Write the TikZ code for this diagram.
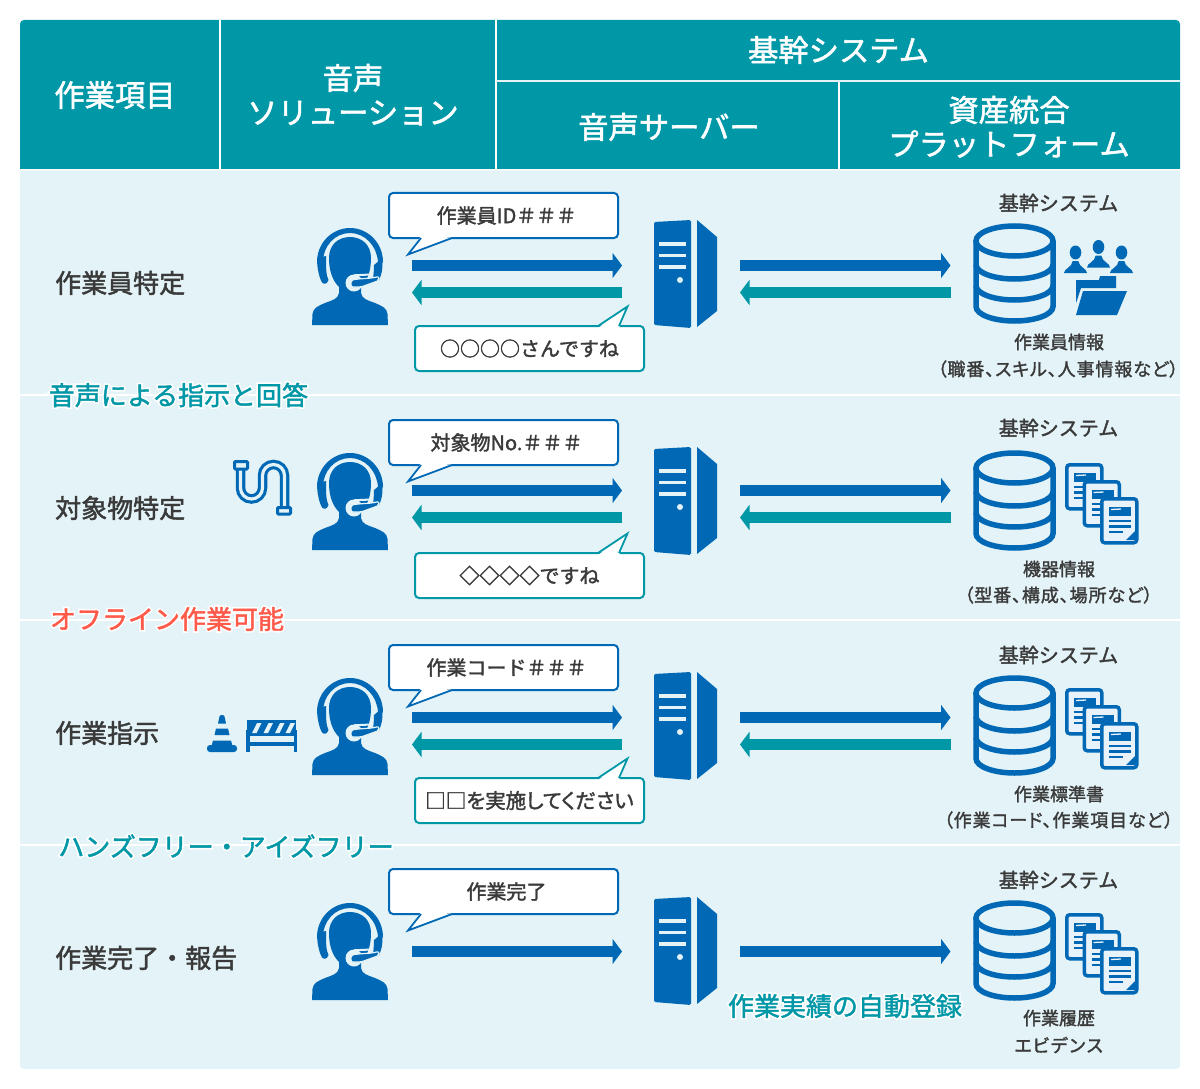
\documentclass[tikz,border=0pt]{standalone}
\usepackage{fontspec}
\usetikzlibrary{arrows.meta}
\setmainfont{Noto Sans CJK JP}[RawFeature={embolden=1.7}]
\newcommand\fs[1]{\fontsize{#1pt}{#1pt}\selectfont}
% coloured caption with a white outline
\newcommand\glowed[1]{\rlap{\color{white}\addfontfeature{RawFeature={embolden=14}}#1}#1}
\definecolor{tealc}{HTML}{0097A7}
\definecolor{bluec}{HTML}{0068B5}
\definecolor{paper}{HTML}{E3F3F7}
\definecolor{inkc}{HTML}{3A3A3A}
\definecolor{redc}{HTML}{FF5A4A}
\definecolor{sheet}{HTML}{E8F2FA}
\tikzset{
  x=1pt,y=-1pt,
  headtext/.style={text=white,align=center,inner sep=0,font=\fs{30.3}},
  rowtext/.style={text=inkc,anchor=west,inner sep=0,font=\fs{26}},
  dbtext/.style={text=inkc,inner sep=0,font=\fs{20}},
  infotext/.style={text=inkc,inner sep=0,font=\fs{18}},
  infopar/.style={text=inkc,inner sep=0,font=\fs{18}\addfontfeature{RawFeature={+palt},LetterSpace=5}},
  tagtext/.style={inner sep=0,font=\fs{26}},
  bubble/.style={draw=#1,fill=white,line width=2pt,rounded corners=4pt,minimum width=229pt,minimum height=45pt,inner sep=0,text=inkc,font=\fs{20}},
  flowblue/.style={draw=bluec,line width=11pt,-{Triangle[length=9.5pt,width=25pt]}},
  flowteal/.style={draw=tealc,line width=11pt,-{Triangle[length=9.5pt,width=25pt]}},
  pics/agent/.style={code={
    \fill[bluec] (312,325) -- (312.5,314) .. controls (313,308) and (318,306) .. (325,303)
      .. controls (333,300) and (338,299) .. (339,293) -- (339,287)
      .. controls (332,280) and (329,270) .. (329,258) .. controls (329,245) and (338,237) .. (350,237)
      .. controls (362,237) and (371,245) .. (371,258) .. controls (371,270) and (368,280) .. (361,287)
      -- (361,293) .. controls (362,299) and (367,300) .. (375,303)
      .. controls (382,306) and (387,308) .. (387.5,314) -- (388,325) -- cycle;
    \fill[bluec] (317,262) .. controls (317,243) and (332,228) .. (350,228)
      .. controls (368,228) and (383,243) .. (383,262) -- (378,262)
      .. controls (377,246) and (365,233) .. (350,233)
      .. controls (335,233) and (323,246) .. (323,262) -- cycle;
    \fill[bluec] (317,258) -- (326,256) .. controls (326,268) and (326,275) .. (328.5,280)
      .. controls (327,284.5) and (324,284.5) .. (322,282.5) .. controls (319,277) and (317,268) .. (317,258) -- cycle;
    \fill[bluec] (382.5,258) -- (382.5,263) .. controls (382.5,270) and (381.5,275) .. (379,280) -- (373,280)
      .. controls (373.5,275) and (374,270) .. (374,265) -- cycle;
    \fill[paper] (354,283) circle[radius=8.5];
    \draw[paper,line width=2pt] (354,275.3) -- (371,274.5);
    \fill[bluec,draw=paper,line width=1.2pt,rounded corners=2pt]
      (351,280) -- (358,279) -- (372,278) -- (379,276.5) -- (379,280.5) -- (361,287) -- (351,287) -- cycle;
  }},
  pics/tower/.style={code={
    \fill[bluec,rounded corners=1.5pt] (654,222) -- (691,220) -- (691,328) -- (654,325) -- cycle;
    \fill[bluec] (697,220) -- (717,237) -- (717,311) -- (697,327) -- cycle;
    \foreach \ly in {244,255.5,267}{\draw[paper,line width=3.3pt] (659,\ly) -- (686,\ly);}
    \fill[paper] (680,280) circle[radius=3];
  }},
  pics/store/.style={code={
    \draw[bluec,line width=5.5pt] (1014.5,241) ellipse[x radius=38.5,y radius=15];
    \draw[bluec,line width=5.5pt] (976,241) -- (976,306.5) .. controls (976,314.5) and (993.2,321) .. (1014.5,321)
      .. controls (1035.8,321) and (1053,314.5) .. (1053,306.5) -- (1053,241);
    \foreach \ay in {264.5,285.5}{
      \draw[bluec,line width=5.5pt] (976,\ay) .. controls (976,\ay+8) and (993.2,\ay+14.5) .. (1014.5,\ay+14.5)
        .. controls (1035.8,\ay+14.5) and (1053,\ay+8) .. (1053,\ay);
    }
  }},
  pics/sheetpage/.style={code={
    \draw[bluec,line width=3.5pt,fill=sheet,rounded corners=3pt] (1.75,1.75) rectangle (36.75,45.75);
    \fill[bluec] (9,10) rectangle (31,19);
    \draw[sheet,line width=1.3pt] (11,12.5) -- (21,12);
    \foreach \ly in {24,29.5}{\draw[bluec,line width=2.2pt] (9,\ly) -- (31,\ly);}
    \draw[bluec,line width=2.2pt] (9,35) -- (23,35);
    \fill[bluec] (35,43) -- (26,43) -- (35,34) -- cycle;
  }},
  pics/papers/.style={code={
    \pic at (1065,236) {sheetpage};
    \pic at (1082.5,253) {sheetpage};
    \pic at (1100,270) {sheetpage};
  }},
  pics/crew/.style={code={
    \foreach \px/\py in {1075.5/0,1121.5/0,1098.5/-5.5}{
      \fill[bluec] (\px,252.5+\py) ellipse[x radius=5.8,y radius=7];
      \fill[bluec] (\px-11.5,273+\py) .. controls (\px-11.5,268.5+\py) and (\px-3.5,267.5+\py) .. (\px-2.8,261+\py)
        -- (\px+2.8,261+\py) .. controls (\px+3.5,267.5+\py) and (\px+11.5,268.5+\py) .. (\px+11.5,273+\py) -- cycle;
    }
    \fill[bluec] (1076,280) -- (1099,280) -- (1100,276) -- (1116,276) -- (1116,288) -- (1081,288) -- (1076,303) -- cycle;
    \fill[bluec] (1083,291) -- (1127,291) -- (1117,315) -- (1076,315) -- cycle;
  }},
  pics/pipework/.style={code={
    \draw[bluec,line width=9.5pt] (240.5,468) -- (240.5,488) .. controls (240.5,494) and (245.4,499) .. (251.5,499)
      .. controls (257.6,499) and (262.5,494) .. (262.5,488) -- (262.5,475.5)
      .. controls (262.5,469.4) and (267.4,464.5) .. (273.5,464.5)
      .. controls (279.6,464.5) and (284.5,469.4) .. (284.5,475.5) -- (284.5,508);
    \draw[paper,line width=3.2pt] (240.5,468) -- (240.5,488) .. controls (240.5,494) and (245.4,499) .. (251.5,499)
      .. controls (257.6,499) and (262.5,494) .. (262.5,488) -- (262.5,475.5)
      .. controls (262.5,469.4) and (267.4,464.5) .. (273.5,464.5)
      .. controls (279.6,464.5) and (284.5,469.4) .. (284.5,475.5) -- (284.5,508);
    \draw[bluec,line width=3pt,fill=paper,rounded corners=1pt] (234.5,461.5) rectangle (247.5,469);
    \draw[bluec,line width=3pt,fill=paper,rounded corners=1pt] (277.5,507.5) rectangle (290.5,514);
  }},
  pics/cone/.style={code={
    \fill[bluec,rounded corners=3pt] (207,745) rectangle (237,752);
    \fill[bluec] (218,723.5) -- (219.5,716.5) .. controls (220,714.5) and (224,714.5) .. (224.5,716.5) -- (226,723.5) -- cycle;
    \fill[bluec] (216,728.5) -- (228,728.5) -- (229.5,735) -- (214.5,735) -- cycle;
    \fill[bluec] (213,740.5) -- (231,740.5) -- (232.5,746) -- (211.5,746) -- cycle;
  }},
  pics/barrier/.style={code={
    \fill[bluec] (247,720) -- (296,720) -- (296,736) -- (247,736) -- cycle;
    \foreach \sx in {253,264.5,276,286.5}{
      \fill[paper] (\sx+4,723) -- (\sx+8.5,723) -- (\sx+3.5,733) -- (\sx-1,733) -- cycle;
    }
    \fill[bluec] (247,742) rectangle (296,746);
    \fill[bluec] (246,730) rectangle (249.5,752);
    \fill[bluec] (293.5,730) rectangle (297,752);
  }},
}
\begin{document}
\begin{tikzpicture}
\useasboundingbox (0,0) rectangle (1200,1089);
% body and table head
\fill[paper] (20,170.5) -- (1180,170.5) [rounded corners=4pt] -- (1180,1069) -- (20,1069) [sharp corners] -- cycle;
\fill[tealc] (20,169) [rounded corners=4pt] -- (20,20) -- (1180,20) [sharp corners] -- (1180,169) -- cycle;
\draw[white,line width=2pt] (220,20) -- (220,169);
\draw[white,line width=2pt] (496,20) -- (496,169);
\draw[paper,line width=2pt] (497,81) -- (1180,81);
\draw[white,line width=2pt] (838.5,82) -- (838.5,169);
\foreach \sy in {395,620,845}{\draw[white,line width=2pt] (20,\sy) -- (1180,\sy);}

\node[headtext] (h1) at (115,95) {作業項目};
\node[headtext] (h2a) at (353,78) {音声};
\node[headtext] (h2b) at (353,113) {ソリューション};
\node[headtext] (h3) at (838.5,50) {基幹システム};
\node[headtext] (h4) at (669,127) {音声サーバー};
\node[headtext] (h5a) at (1009,110) {資産統合};
\node[headtext] (h5b) at (1009,144) {プラットフォーム};

\node[rowtext] (r1) at (55,283) {作業員特定};
\node[rowtext] (r2) at (55,508) {対象物特定};
\node[rowtext] (r3) at (55,733) {作業指示};
\node[rowtext] (r4) at (55,958) {作業完了・報告};

% icons, one set per row
\foreach \n/\dp/\ds/\dd in {1/0/0/0,2/225/227/227,3/450/452/452,4/675/677/677}{
  \pic at (0,\dp) {agent};
  \pic at (0,\ds) {tower};
  \pic at (0,\dd) {store};
}
\pic at (0,0) {crew};
\pic at (0,227) {papers};
\pic at (0,452) {papers};
\pic at (0,677) {papers};
\pic at (0,0) {pipework};
\pic at (0,0) {cone};
\pic at (0,0) {barrier};

% speech bubbles towards the server
\foreach \n/\dq/\msg in {1/0/作業員ID＃＃＃,2/227/対象物No.＃＃＃,3/452/作業コード＃＃＃,4/676/作業完了}{
  \node[bubble=bluec] (q\n) at (503.5,215.5+\dq) {\hspace*{6pt}\raisebox{0.7pt}{\msg}};
  \fill[white] (421,236+\dq) -- (408,254.5+\dq) -- (452,237.5+\dq) -- cycle;
  \draw[bluec,line width=1.8pt] (421,238+\dq) -- (408,254.5+\dq) -- (452,238+\dq);
}
% speech bubbles back from the server
\foreach \n/\dq/\msg in {1/0/○○○○さんですね,2/227/◇◇◇◇ですね}{
  \node[bubble=tealc] (a\n) at (529.5,348.5+\dq) {\msg};
  \fill[white] (598,328+\dq) -- (627.5,306.5+\dq) -- (619,328+\dq) -- cycle;
  \draw[tealc,line width=1.8pt] (598,326+\dq) -- (627.5,306.5+\dq) -- (619,326+\dq);
}
\node[bubble=tealc] (a3) at (529.5,800.5) {\fs{20.5}\addfontfeature{RawFeature={+palt}}□□を実施してください};
\fill[white] (598,780) -- (627.5,758.5) -- (619,780) -- cycle;
\draw[tealc,line width=1.8pt] (598,778) -- (627.5,758.5) -- (619,778);

% message flows
\foreach \n/\dy in {1/0,2/225,3/452}{
  \coordinate (u\n) at (412,265.5+\dy);
  \coordinate (s\n) at (622,265.5+\dy);
  \coordinate (t\n) at (622,292.5+\dy);
  \coordinate (v\n) at (412,292.5+\dy);
  \coordinate (w\n) at (740,265.5+\dy);
  \coordinate (d\n) at (950.5,265.5+\dy);
  \coordinate (e\n) at (950.5,292.5+\dy);
  \coordinate (f\n) at (740,292.5+\dy);
  \draw[flowblue] (u\n) -- (s\n);
  \draw[flowteal] (t\n) -- (v\n);
  \draw[flowblue] (w\n) -- (d\n);
  \draw[flowteal] (e\n) -- (f\n);
}
\coordinate (u4) at (412,951.5);
\coordinate (s4) at (622,951.5);
\coordinate (w4) at (740,951.5);
\coordinate (d4) at (950.5,951.5);
\draw[flowblue] (u4) -- (s4);
\draw[flowblue] (w4) -- (d4);

% back-end captions
\node[dbtext] (k1) at (1058.5,203) {基幹システム};
\node[dbtext] (k2) at (1058.5,428) {基幹システム};
\node[dbtext] (k3) at (1058.5,655) {基幹システム};
\node[dbtext] (k4) at (1058.5,880) {基幹システム};
\node[infotext] (i1a) at (1059,342) {作業員情報};
\node[infopar] (i1b) at (1058,369) {（職番、スキル、人事情報など）};
\node[infotext] (i2a) at (1059,569) {機器情報};
\node[infopar] (i2b) at (1058.5,595) {（型番、構成、場所など）};
\node[infotext] (i3a) at (1059,794) {作業標準書};
\node[infopar] (i3b) at (1058.5,820) {（作業コード、作業項目など）};
\node[infotext] (i4a) at (1059,1018) {作業履歴};
\node[infotext] (i4b) at (1059,1045) {エビデンス};

% section tags sitting on the row dividers
\node[tagtext,text=tealc] (t1) at (178.5,395) {\glowed{音声による指示と回答}};
\node[tagtext,text=redc] (t2) at (167,619) {\glowed{オフライン作業可能}};
\node[tagtext,text=tealc] (t3) at (226,846) {\glowed{ハンズフリー・アイズフリー}};
\node[tagtext,text=tealc] (t4) at (845,1006) {\glowed{作業実績の自動登録}};
\end{tikzpicture}
\end{document}
